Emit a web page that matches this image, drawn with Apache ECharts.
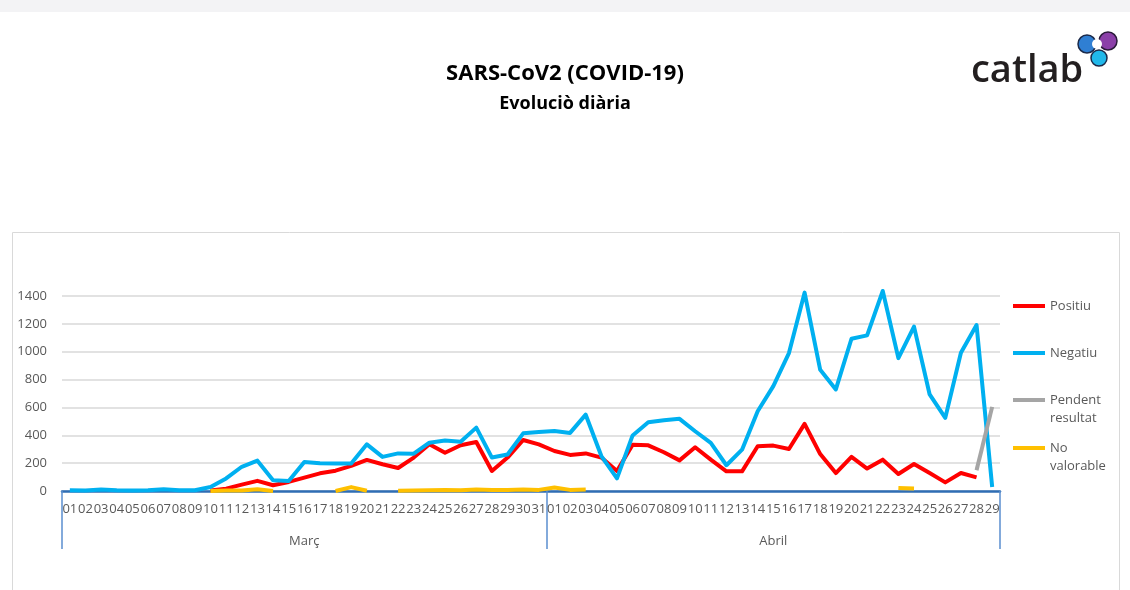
<!DOCTYPE html>
<html>
<head>
<meta charset="utf-8">
<title>SARS-CoV2 (COVID-19) - Evoluciò diària</title>
<script src="https://cdn.jsdelivr.net/npm/echarts@6/dist/echarts.min.js"></script>
<style>
html,body{margin:0;padding:0;background:#fff;}
#chart{width:1130px;height:590px;}
</style>
</head>
<body>
<div id="chart"></div>
<script>
// dies de cada mes
var diesMarc = ['01','02','03','04','05','06','07','08','09','10',
  '11','12','13','14','15','16','17','18','19','20',
  '21','22','23','24','25','26','27','28','29','30','31']
var diesAbril = ['01','02','03','04','05','06','07','08','09','10',
  '11','12','13','14','15','16','17','18','19','20',
  '21','22','23','24','25','26','27','28','29']
var mesos = ['Març','Abril']

var positiuMarc = [null,null,null,null,null,null,null,null,null,3,
  17,46,73,41,65,96,127,146,180,223,
  192,165,240,335,275,328,352,144,240,366,335]
var positiuAbril = [287,259,270,240,144,332,328,278,220,314,
  225,141,141,321,326,302,482,265,129,245,
  161,225,122,194,129,62,129,98,null]

var negatiuMarc = [5,3,10,5,3,5,12,5,5,29,
  90,174,218,78,72,208,200,198,198,335,
  245,270,268,347,362,354,455,240,262,414,424]
var negatiuAbril = [430,417,548,251,91,399,494,508,518,429,
  345,185,297,573,753,990,1424,870,729,1093,
  1117,1436,954,1180,693,525,993,1192,29]

var pendentMarc = [null,null,null,null,null,null,null,null,null,null,
  null,null,null,null,null,null,null,null,null,null,
  null,null,null,null,null,null,null,null,null,null,null]
var pendentAbril = [null,null,null,null,null,null,null,null,null,null,
  null,null,null,null,null,null,null,null,null,null,
  null,null,null,null,null,null,null,149,604]

var noValorableMarc = [null,null,null,null,null,null,null,null,null,0,
  3,3,12,0,null,null,null,0,28,2,
  null,2,3,5,8,5,10,8,8,10,8]
var noValorableAbril = [25,8,10,null,null,null,null,null,null,null,
  null,null,null,null,null,null,null,null,null,null,
  null,null,22,18,null,null,null,null,null]

var yTicks = [0,200,400,600,800,1000,1200,1400]

var dies = diesMarc.concat(diesAbril)
var font = '"Open Sans", "Noto Sans", sans-serif'
var grisText = '#595959'

// una llegenda per element, top = on cau la icona
function llegenda(nom, iconY, dosLinies){
  return {
    orient:'vertical', left:1008, top:iconY - 5 - (dosLinies ? 27 : 9),
    itemWidth:32, itemHeight:4, icon:'rect',
    data:[nom],
    formatter:function(n){ return n.indexOf(' ')>0 ? '\n' + n.replace(' ','\n') : n },
    textStyle:{color:grisText,fontSize:13,fontFamily:font,lineHeight:18}
  }
}

function serie(nom, dades, color){
  return {
    name:nom, type:'line', data:dades, symbol:'none', clip:false,
    connectNulls:false, color:color,
    lineStyle:{color:color,width:4,join:'round'},
    emphasis:{disabled:true}
  }
}

var mychart = echarts.init(document.getElementById('chart'))
var option = {
  animation:false,
  title:{
    text:'SARS-CoV2 (COVID-19)',
    subtext:'Evoluciò diària',
    left:'center', top:58, itemGap:10,
    textStyle:{fontSize:22,fontWeight:'bold',color:'#000',fontFamily:font},
    subtextStyle:{fontSize:18,fontWeight:'bold',color:'#000',fontFamily:font}
  },
  graphic:[
    {type:'rect',shape:{x:0,y:0,width:1130,height:12},style:{fill:'#f3f3f5'},silent:true},
    {type:'rect',shape:{x:12.5,y:232.5,width:1107,height:400},style:{fill:'none',stroke:'#d9d9d9',lineWidth:1},silent:true},
    // logo catlab
    {type:'text',x:971,y:52,style:{text:'catlab',fontSize:38,fontWeight:600,fill:'#231f20',fontFamily:font},silent:true},
    {type:'circle',shape:{cx:1087,cy:44,r:9},style:{fill:'#2f7fd3',stroke:'#1b2a4a',lineWidth:1.5},silent:true},
    {type:'circle',shape:{cx:1108,cy:41,r:9},style:{fill:'#8b3fa8',stroke:'#2a1a3a',lineWidth:1.5},silent:true},
    {type:'circle',shape:{cx:1099,cy:58,r:8},style:{fill:'#21b8ea',stroke:'#1b2a4a',lineWidth:1.5},silent:true},
    {type:'circle',shape:{cx:1097,cy:44,r:5},style:{fill:'#ffffff'},silent:true}
  ],
  legend:[
    llegenda('Positiu',306,false),
    llegenda('Negatiu',353,false),
    llegenda('Pendent resultat',400,true),
    llegenda('No valorable',448,true)
  ],
  grid:{left:62,right:130,top:296,bottom:99,containLabel:false},
  xAxis:[
    {
      type:'category', data:dies, position:'bottom', boundaryGap:true,
      axisLine:{lineStyle:{color:'#2f6db4',width:2.5}},
      axisTick:{show:false},
      axisLabel:{interval:0,color:grisText,fontSize:13,fontFamily:font,margin:12}
    },
    {
      type:'category', data:dies, position:'bottom', boundaryGap:true,
      axisLine:{show:false},
      axisTick:{show:true,length:58,interval:function(i){ return i===0 || i===diesMarc.length },lineStyle:{color:'#5b8fcf',width:1.5}},
      axisLabel:{
        interval:function(i){ return i===15 || i===45 },
        formatter:function(v,i){ return i<diesMarc.length ? mesos[0] : mesos[1] },
        color:grisText,fontSize:13,fontFamily:font,margin:44
      }
    }
  ],
  yAxis:{
    type:'value', min:yTicks[0], max:yTicks[yTicks.length-1], interval:200,
    axisLine:{show:false}, axisTick:{show:false},
    axisLabel:{color:grisText,fontSize:13,fontFamily:font,margin:15,formatter:function(v){ return String(v) }},
    splitLine:{lineStyle:{color:'#d9d9d9',width:1.5}}
  },
  series:[
    serie('Positiu',positiuMarc.concat(positiuAbril),'#ff0000'),
    serie('Negatiu',negatiuMarc.concat(negatiuAbril),'#00b0f0'),
    serie('Pendent resultat',pendentMarc.concat(pendentAbril),'#a5a5a5'),
    serie('No valorable',noValorableMarc.concat(noValorableAbril),'#ffc000')
  ]
}
mychart.setOption(option,true)
</script>
</body>
</html>
